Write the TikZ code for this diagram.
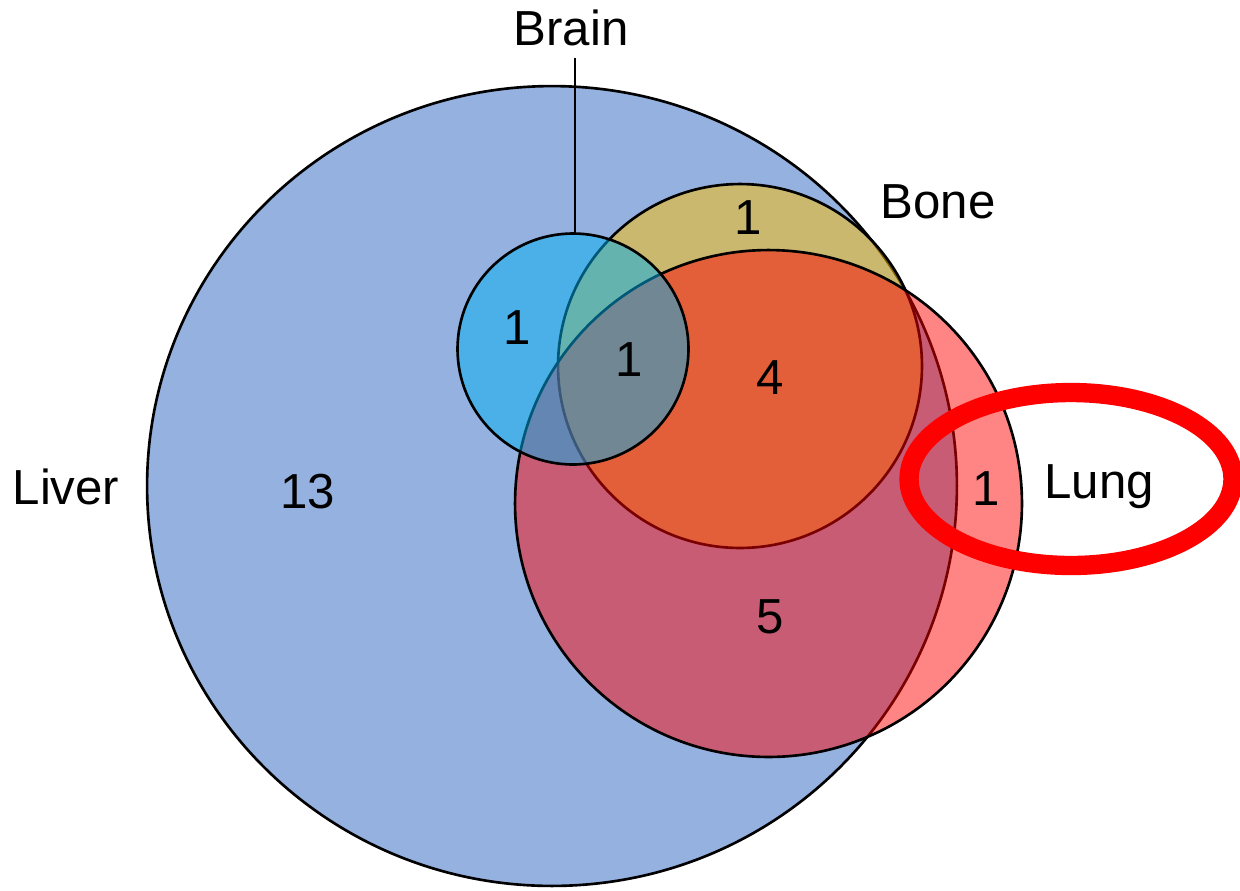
\documentclass[tikz,border=0pt]{standalone}
\usepackage{fontspec}
\setmainfont{Liberation Sans}
\usetikzlibrary{shapes.geometric}
\definecolor{liverc}{RGB}{149,177,223}
\definecolor{bonec}{RGB}{255,192,0}
\definecolor{lungc}{RGB}{255,0,0}
\definecolor{brainc}{RGB}{0,176,240}
\begin{document}
\begin{tikzpicture}[x=0.02cm,y=-0.02cm,
  setc/.style={circle,draw=black,line width=1.5pt,inner sep=0pt,outer sep=0pt},
  lbl/.style={font=\fontsize{28}{32}\selectfont,inner sep=0pt}]
\useasboundingbox (0,0) rectangle (1240,890);
% sets
\node[ellipse,draw=black,line width=1.5pt,inner sep=0pt,outer sep=0pt,fill=liverc,minimum width=16.2cm,minimum height=16cm] (liver) at (552,486) {};
\node[setc,fill=bonec,fill opacity=0.5,minimum size=7.28cm] (bone) at (740,366) {};
\node[setc,fill=lungc,fill opacity=0.48,minimum size=10.14cm] (lung) at (768.5,503.5) {};
\node[setc,fill=brainc,fill opacity=0.5,minimum size=4.62cm] (brain) at (573,349) {};
% highlight ellipse
\node[ellipse,draw=red,line width=11pt,inner sep=0pt,minimum width=6.48cm,minimum height=3.46cm] (hl) at (1071,479) {};
% labels
\node[lbl] (brainlbl) at (571,28) {Brain};
\node[lbl] (bonelbl) at (938,202) {Bone};
\node[lbl] (liverlbl) at (66,487) {Liver};
\node[lbl] (lunglbl) at (1099,487) {Lung};
\coordinate (stem) at (575,58);
\draw[line width=1.1pt] (stem) -- (stem |- brain.north);
% counts
\node[lbl] (n13) at (308,492) {13};
\node[lbl] (nbrain) at (517,328) {1};
\node[lbl] (nbb) at (629,360) {1};
\node[lbl] (nbl) at (770,378) {4};
\node[lbl] (nbone) at (748,218) {1};
\node[lbl] (nll) at (770,617) {5};
\node[lbl] (nlung) at (986,489) {1};
\end{tikzpicture}
\end{document}
